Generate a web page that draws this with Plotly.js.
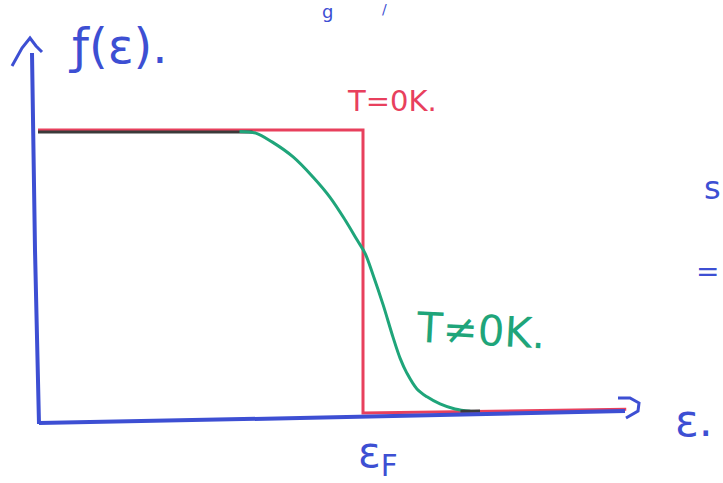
<!DOCTYPE html>
<html>
<head>
<meta charset="utf-8">
<script src="https://cdn.plot.ly/plotly-3.0.1.min.js"></script>
<style>
  html, body { margin: 0; padding: 0; background: #ffffff; }
  #plot { width: 723px; height: 483px; }
</style>
</head>
<body>
<div id="plot"></div>
<script>
// Fermi–Dirac occupancy f(ε), energy in units of the Fermi energy (ε_F = 1).

// T = 0 K: sharp step at ε_F
const stepEnergy = [0.00, 1.00, 1.00, 1.81];
const stepOcc    = [1.00, 1.00, 0.00, 0.013];

// T ≠ 0 K: smeared edge
const warmEnergy = [0.62, 0.67, 0.72, 0.785, 0.846, 0.898, 0.945, 0.982, 1.006,
                    1.031, 1.062, 1.092, 1.114, 1.135, 1.166, 1.197, 1.237, 1.283, 1.33];
const warmOcc    = [0.995, 0.989, 0.958, 0.905, 0.834, 0.763, 0.682, 0.611, 0.565,
                    0.488, 0.382, 0.269, 0.194, 0.141, 0.085, 0.057, 0.032, 0.014, 0.006];

// pencil overdraw where both curves coincide
const inkTopEnergy = [0.00, 0.66];
const inkTopOcc    = [0.993, 0.993];
const inkLowEnergy = [1.30, 1.36];
const inkLowOcc    = [0.006, 0.007];

// labels
const labelF     = 'ƒ(ε).';
const labelCold  = 'T=0K.';
const labelWarm  = 'T≠0K.';
const labelE     = 'ε.';
const labelFermi = 'ε<sub>F</sub>';

const W = 723, H = 483;
// mapping between canvas pixels and data units
const X0 = 38, XS = 325;   // ε = 0 at x=38 px, ε_F at 363 px
const Y0 = 413, YS = 283;  // f = 0 at y=413 px, f = 1 at y=130 px
const xRange = [(0 - X0) / XS, (W - X0) / XS];
const yRange = [(Y0 - H) / YS, (Y0 - 0) / YS];
const px = x => x / W;          // pixel -> paper
const py = y => 1 - y / H;

const BLUE = '#3d4fd3', RED = '#e8405d', GREEN = '#1fa57a', INK = '#3a3a3a';

const traces = [
  { x: stepEnergy, y: stepOcc, mode: 'lines', line: { color: RED, width: 3 }, hoverinfo: 'skip' },
  { x: inkTopEnergy, y: inkTopOcc, mode: 'lines', line: { color: INK, width: 3 }, hoverinfo: 'skip' },
  { x: warmEnergy, y: warmOcc, mode: 'lines', line: { color: GREEN, width: 3, shape: 'spline', smoothing: 1 }, hoverinfo: 'skip' },
  { x: inkLowEnergy, y: inkLowOcc, mode: 'lines', line: { color: INK, width: 3 }, hoverinfo: 'skip' }
];

// axis strokes and arrowheads (paper coordinates)
const P = (pts) => 'M ' + pts.map(p => px(p[0]) + ' ' + py(p[1])).join(' L ');
const shapes = [
  { type: 'path', xref: 'paper', yref: 'paper', path: P([[32, 53], [35, 250], [39, 424]]),
    line: { color: BLUE, width: 4 } },
  { type: 'path', xref: 'paper', yref: 'paper', path: P([[39, 423], [300, 418], [625, 411]]),
    line: { color: BLUE, width: 4 } },
  { type: 'path', xref: 'paper', yref: 'paper', path: P([[12, 66], [22, 48], [30, 38], [36, 46], [42, 52]]),
    line: { color: BLUE, width: 3 } },
  { type: 'path', xref: 'paper', yref: 'paper', path: P([[618, 398], [630, 398], [639, 403], [638, 411], [626, 418]]),
    line: { color: BLUE, width: 3 } }
];

const hand = 'DejaVu Sans';
const ann = (text, x, y, size, color, extra) => Object.assign({
  text, x: px(x), y: py(y), xref: 'paper', yref: 'paper', showarrow: false,
  xanchor: 'center', yanchor: 'middle',
  font: { family: hand, size, color }
}, extra || {});

const annotations = [
  ann(labelF, 118, 46, 48, BLUE),
  ann(labelCold, 392, 101, 29, RED),
  ann(labelWarm, 480, 330, 42, GREEN, { textangle: 3 }),
  ann(labelE, 694, 420, 44, BLUE),
  ann(labelFermi, 378, 455, 42, BLUE),
  // stray pen marks near the page edges
  ann('s', 712, 188, 32, BLUE),
  ann('=', 721, 271, 28, BLUE, { xanchor: 'right' }),
  ann('g', 327, 11, 18, BLUE),
  ann('/', 384, 9, 14, BLUE)
];

const layout = {
  width: W, height: H,
  margin: { l: 0, r: 0, t: 0, b: 0, pad: 0 },
  paper_bgcolor: '#ffffff', plot_bgcolor: '#ffffff',
  showlegend: false,
  xaxis: { range: xRange, visible: false, fixedrange: true },
  yaxis: { range: yRange, visible: false, fixedrange: true },
  shapes, annotations
};

Plotly.newPlot('plot', traces, layout, { staticPlot: true, displayModeBar: false });
</script>
</body>
</html>
